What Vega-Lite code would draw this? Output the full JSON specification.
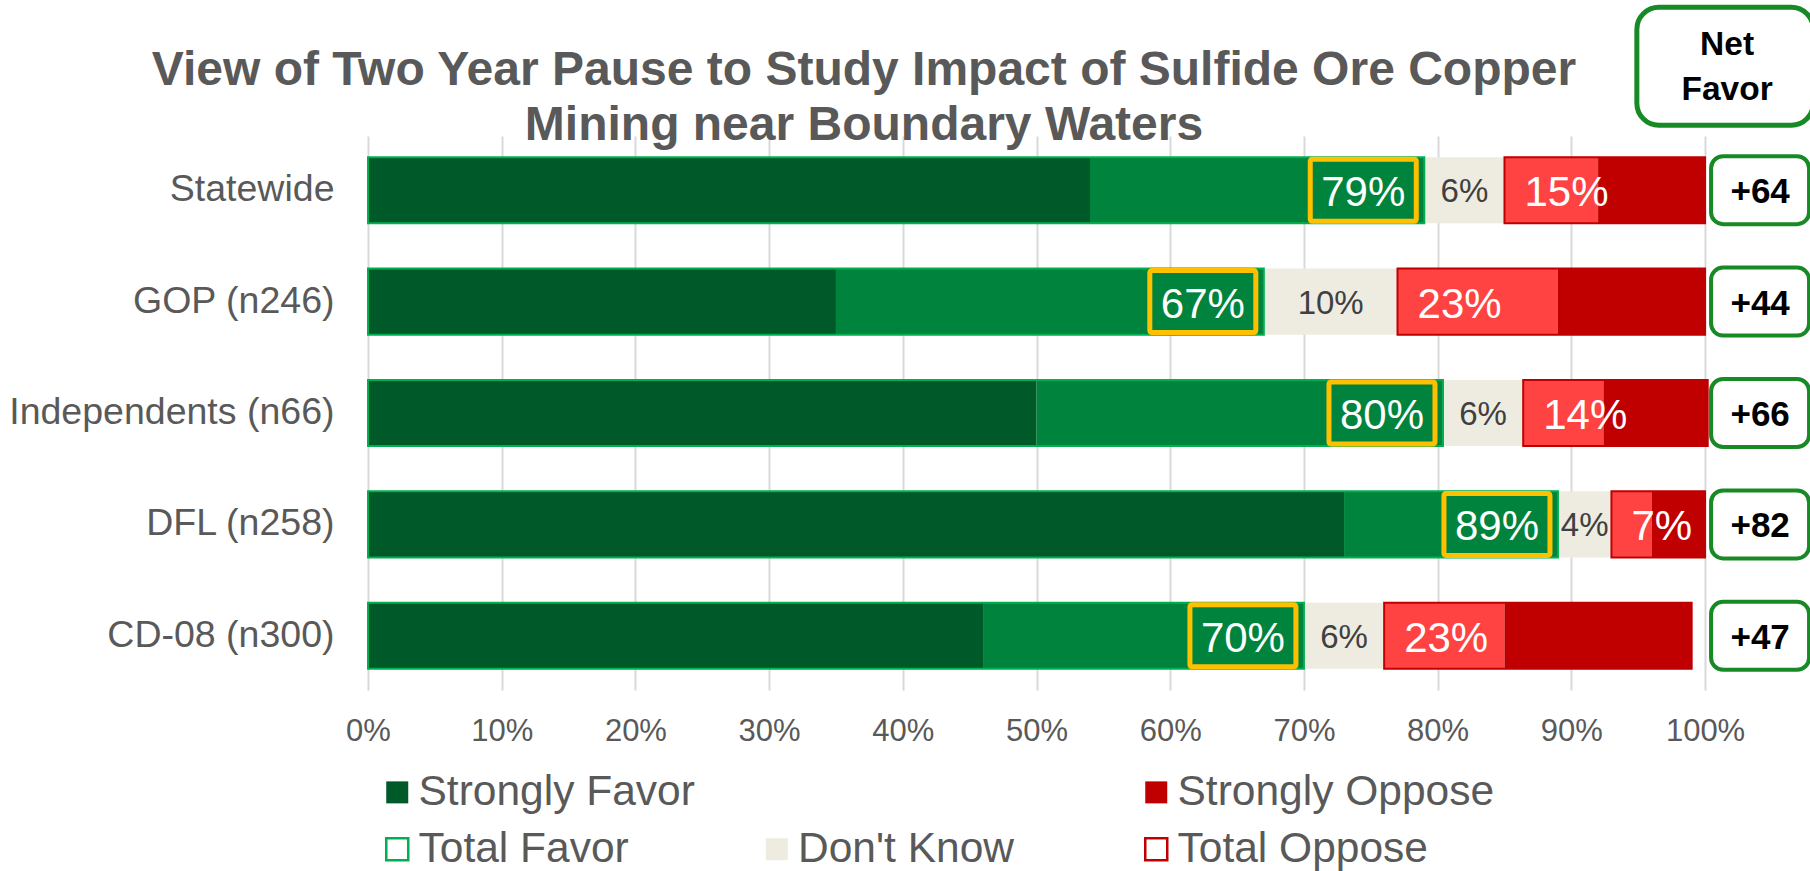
{
  "$schema": "https://vega.github.io/schema/vega-lite/v6.json",
  "width": 1442,
  "height": 554,
  "autosize": {"type": "none"},
  "padding": {"left": 368, "top": 136, "right": 0, "bottom": 181},
  "background": "white",
  "title": {
    "text": ["View of Two Year Pause to Study Impact of Sulfide Ore Copper", "Mining near Boundary Waters"],
    "font": "Liberation Sans",
    "fontSize": 48,
    "fontWeight": "bold",
    "color": "#595959",
    "lineHeight": 55,
    "anchor": "middle",
    "frame": "group",
    "dx": -225,
    "offset": -183.5,
    "baseline": "alphabetic"
  },
  "datasets": {
    "fine": [
      {"group": "Statewide", "seg": "Strongly Favor", "pct": 0.54, "k": 1},
      {"group": "Statewide", "seg": "Somewhat Favor", "pct": 0.25, "k": 2},
      {"group": "Statewide", "seg": "Don't Know", "pct": 0.06, "k": 3},
      {"group": "Statewide", "seg": "Somewhat Oppose", "pct": 0.07, "k": 4},
      {"group": "Statewide", "seg": "Strongly Oppose", "pct": 0.08, "k": 5},
      {"group": "GOP (n246)", "seg": "Strongly Favor", "pct": 0.35, "k": 1},
      {"group": "GOP (n246)", "seg": "Somewhat Favor", "pct": 0.32, "k": 2},
      {"group": "GOP (n246)", "seg": "Don't Know", "pct": 0.10, "k": 3},
      {"group": "GOP (n246)", "seg": "Somewhat Oppose", "pct": 0.12, "k": 4},
      {"group": "GOP (n246)", "seg": "Strongly Oppose", "pct": 0.11, "k": 5},
      {"group": "Independents (n66)", "seg": "Strongly Favor", "pct": 0.50, "k": 1},
      {"group": "Independents (n66)", "seg": "Somewhat Favor", "pct": 0.304, "k": 2},
      {"group": "Independents (n66)", "seg": "Don't Know", "pct": 0.06, "k": 3},
      {"group": "Independents (n66)", "seg": "Somewhat Oppose", "pct": 0.06, "k": 4},
      {"group": "Independents (n66)", "seg": "Strongly Oppose", "pct": 0.078, "k": 5},
      {"group": "DFL (n258)", "seg": "Strongly Favor", "pct": 0.73, "k": 1},
      {"group": "DFL (n258)", "seg": "Somewhat Favor", "pct": 0.16, "k": 2},
      {"group": "DFL (n258)", "seg": "Don't Know", "pct": 0.04, "k": 3},
      {"group": "DFL (n258)", "seg": "Somewhat Oppose", "pct": 0.03, "k": 4},
      {"group": "DFL (n258)", "seg": "Strongly Oppose", "pct": 0.04, "k": 5},
      {"group": "CD-08 (n300)", "seg": "Strongly Favor", "pct": 0.46, "k": 1},
      {"group": "CD-08 (n300)", "seg": "Somewhat Favor", "pct": 0.24, "k": 2},
      {"group": "CD-08 (n300)", "seg": "Don't Know", "pct": 0.06, "k": 3},
      {"group": "CD-08 (n300)", "seg": "Somewhat Oppose", "pct": 0.09, "k": 4},
      {"group": "CD-08 (n300)", "seg": "Strongly Oppose", "pct": 0.14, "k": 5}
    ],
    "coarse": [
      {"group": "Statewide", "seg": "Total Favor", "pct": 0.79, "k": 1},
      {"group": "Statewide", "seg": "Don't Know", "pct": 0.06, "k": 2},
      {"group": "Statewide", "seg": "Total Oppose", "pct": 0.15, "k": 3},
      {"group": "GOP (n246)", "seg": "Total Favor", "pct": 0.67, "k": 1},
      {"group": "GOP (n246)", "seg": "Don't Know", "pct": 0.10, "k": 2},
      {"group": "GOP (n246)", "seg": "Total Oppose", "pct": 0.23, "k": 3},
      {"group": "Independents (n66)", "seg": "Total Favor", "pct": 0.804, "k": 1},
      {"group": "Independents (n66)", "seg": "Don't Know", "pct": 0.06, "k": 2},
      {"group": "Independents (n66)", "seg": "Total Oppose", "pct": 0.138, "k": 3},
      {"group": "DFL (n258)", "seg": "Total Favor", "pct": 0.89, "k": 1},
      {"group": "DFL (n258)", "seg": "Don't Know", "pct": 0.04, "k": 2},
      {"group": "DFL (n258)", "seg": "Total Oppose", "pct": 0.07, "k": 3},
      {"group": "CD-08 (n300)", "seg": "Total Favor", "pct": 0.70, "k": 1},
      {"group": "CD-08 (n300)", "seg": "Don't Know", "pct": 0.06, "k": 2},
      {"group": "CD-08 (n300)", "seg": "Total Oppose", "pct": 0.23, "k": 3}
    ],
    "net": [
      {"group": "Statewide", "net": 64},
      {"group": "GOP (n246)", "net": 44},
      {"group": "Independents (n66)", "net": 66},
      {"group": "DFL (n258)", "net": 82},
      {"group": "CD-08 (n300)", "net": 47}
    ],
    "head": [
      {"head": "Net\nFavor"}
    ]
  },
  "layer": [
    {
      "data": {"name": "fine"},
      "mark": {"type": "bar"},
      "encoding": {
        "y": {
          "field": "group", "type": "nominal",
          "scale": {"domain": ["Statewide", "GOP (n246)", "Independents (n66)", "DFL (n258)", "CD-08 (n300)"], "paddingInner": 0.407, "paddingOuter": 0.19},
          "axis": {"title": null, "domain": false, "ticks": false, "tickSize": 0, "labelPadding": 34, "labelFont": "Liberation Sans", "labelFontSize": 37.5, "labelColor": "#595959", "labelLimit": 600, "grid": false}
        },
        "x": {
          "field": "pct", "type": "quantitative", "stack": "zero",
          "scale": {"domain": [0, 1.0785], "nice": false},
          "axis": {"title": null, "values": [0, 0.1, 0.2, 0.3, 0.4, 0.5, 0.6, 0.7, 0.8, 0.9, 1.0], "format": ".0%", "grid": true, "gridColor": "#D9D9D9", "gridWidth": 2, "domain": false, "ticks": false, "tickSize": 0, "labelFont": "Liberation Sans", "labelFontSize": 31, "labelColor": "#595959", "labelBaseline": "alphabetic", "labelPadding": 50, "labelFlush": false}
        },
        "fill": {
          "field": "seg", "type": "nominal",
          "scale": {
            "domain": ["Strongly Favor", "Somewhat Favor", "Don't Know", "Somewhat Oppose", "Strongly Oppose", "Total Favor", "Total Oppose", " "],
            "range": ["#005929", "#00843D", "#EEECE1", "#FF4343", "#C00000", "#FFFFFF", "#FFFFFF", "transparent"]
          },
          "legend": {
            "values": ["Strongly Favor", " ", "Strongly Oppose", "Total Favor", "Don't Know", "Total Oppose"],
            "title": null,
            "orient": "none",
            "legendX": 8,
            "legendY": 635,
            "direction": "horizontal",
            "columns": 3,
            "gridAlign": "all",
            "columnPadding": 19.5,
            "rowPadding": 14,
            "padding": 0,
            "symbolType": "square",
            "symbolSize": 484,
            "symbolStrokeWidth": 2.5,
            "labelFont": "Liberation Sans",
            "labelFontSize": 42.5,
            "labelColor": "#595959",
            "labelOffset": 0,
            "labelLimit": 600,
            "encode": {
              "symbols": {
                "update": {
                  "stroke": {"signal": "datum.value === 'Total Favor' ? '#00B050' : datum.value === 'Total Oppose' ? '#C00000' : 'transparent'"}
                }
              }
            }
          }
        },
        "order": {"field": "k", "type": "quantitative"}
      }
    },
    {
      "data": {"name": "coarse"},
      "mark": {"type": "bar", "fill": "transparent", "strokeWidth": 2},
      "encoding": {
        "y": {"field": "group", "type": "nominal"},
        "x": {"field": "pct", "type": "quantitative", "stack": "zero"},
        "detail": {"field": "seg", "type": "nominal"},
        "order": {"field": "k", "type": "quantitative"},
        "stroke": {
          "condition": [
            {"test": "datum.seg === 'Total Favor'", "value": "#00B050"},
            {"test": "datum.seg === 'Total Oppose'", "value": "#C00000"}
          ],
          "value": "transparent"
        }
      }
    },
    {
      "data": {"name": "coarse"},
      "transform": [{"filter": "datum.seg === 'Total Favor'"}],
      "mark": {"type": "bar", "fill": "transparent", "stroke": "#FFC000", "strokeWidth": 5, "height": 62, "xOffset": -114, "x2Offset": -8, "cornerRadius": 2},
      "encoding": {
        "y": {"field": "group", "type": "nominal"},
        "x": {"field": "pct", "type": "quantitative", "stack": null},
        "x2": {"field": "pct"}
      }
    },
    {
      "data": {"name": "coarse"},
      "transform": [{"filter": "datum.seg === 'Total Favor'"}],
      "mark": {"type": "text", "font": "Liberation Sans", "fontSize": 42, "color": "#FFFFFF", "align": "center", "baseline": "middle", "xOffset": -61, "dy": 3},
      "encoding": {
        "y": {"field": "group", "type": "nominal"},
        "x": {"field": "pct", "type": "quantitative", "stack": null},
        "text": {"field": "pct", "type": "quantitative", "format": ".0%"}
      }
    },
    {
      "data": {"name": "coarse"},
      "mark": {"type": "text", "font": "Liberation Sans", "fontSize": 33, "color": "#404040", "align": "center", "baseline": "middle", "dy": 2},
      "encoding": {
        "y": {"field": "group", "type": "nominal"},
        "x": {"field": "pct", "type": "quantitative", "stack": "zero", "bandPosition": 0.5},
        "detail": {"field": "seg", "type": "nominal"},
        "order": {"field": "k", "type": "quantitative"},
        "text": {"condition": {"test": "datum.seg === \"Don't Know\"", "field": "pct", "type": "quantitative", "format": ".0%"}, "value": ""}
      }
    },
    {
      "data": {"name": "coarse"},
      "mark": {"type": "text", "font": "Liberation Sans", "fontSize": 42, "color": "#FFFFFF", "align": "left", "baseline": "middle", "xOffset": 20, "dy": 3},
      "encoding": {
        "y": {"field": "group", "type": "nominal"},
        "x": {"field": "pct", "type": "quantitative", "stack": "zero", "bandPosition": 0},
        "detail": {"field": "seg", "type": "nominal"},
        "order": {"field": "k", "type": "quantitative"},
        "text": {"condition": {"test": "datum.seg === 'Total Oppose'", "field": "pct", "type": "quantitative", "format": ".0%"}, "value": ""}
      }
    },
    {
      "data": {"name": "net"},
      "mark": {"type": "bar", "fill": "#FFFFFF", "stroke": "#178A26", "strokeWidth": 4, "height": 68, "cornerRadius": 12},
      "encoding": {
        "y": {"field": "group", "type": "nominal"},
        "x": {"datum": 1.0045, "type": "quantitative"},
        "x2": {"datum": 1.0778}
      }
    },
    {
      "data": {"name": "net"},
      "mark": {"type": "text", "font": "Liberation Sans", "fontSize": 35, "fontWeight": "bold", "color": "#000000", "align": "center", "baseline": "middle", "dy": 2},
      "encoding": {
        "y": {"field": "group", "type": "nominal"},
        "x": {"datum": 1.0412, "type": "quantitative"},
        "text": {"field": "net", "type": "quantitative", "format": "+d"}
      }
    },
    {
      "data": {"name": "head"},
      "mark": {"type": "bar", "fill": "#FFFFFF", "stroke": "#178A26", "strokeWidth": 5, "height": 118, "cornerRadius": 22, "yOffset": -124},
      "encoding": {
        "y": {"datum": "Statewide", "type": "nominal"},
        "x": {"datum": 0.949, "type": "quantitative"},
        "x2": {"datum": 1.081}
      }
    },
    {
      "data": {"name": "head"},
      "mark": {"type": "text", "font": "Liberation Sans", "fontSize": 33.5, "fontWeight": "bold", "color": "#000000", "align": "center", "baseline": "middle", "lineHeight": 45, "lineBreak": "\n", "yOffset": -146, "dy": 1},
      "encoding": {
        "y": {"datum": "Statewide", "type": "nominal"},
        "x": {"datum": 1.0165, "type": "quantitative"},
        "text": {"field": "head", "type": "nominal"}
      }
    }
  ],
  "config": {
    "view": {"stroke": null},
    "font": "Liberation Sans"
  }
}
